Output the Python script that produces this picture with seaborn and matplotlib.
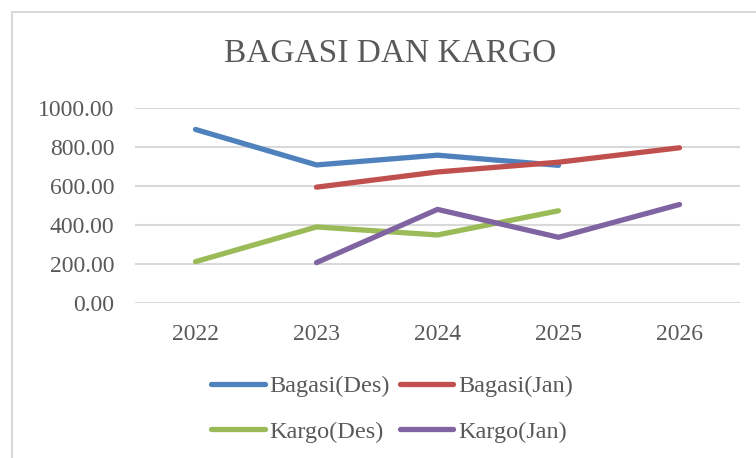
import numpy as np
import pandas as pd
import seaborn as sns
import matplotlib.pyplot as plt
from matplotlib.lines import Line2D

years = ["2022", "2023", "2024", "2025", "2026"]
bagasi_des = [890, 708, 758, 706, np.nan]
bagasi_jan = [np.nan, 594, 672, 722, 796]
kargo_des = [212, 390, 349, 473, np.nan]
kargo_jan = [np.nan, 207, 480, 337, 505]

series = {
    "Bagasi(Des)": bagasi_des,
    "Bagasi(Jan)": bagasi_jan,
    "Kargo(Des)": kargo_des,
    "Kargo(Jan)": kargo_jan,
}
colors = ["#4F81BD", "#C0504D", "#9BBB59", "#8064A2"]

rows = []
for name, vals in series.items():
    for i, v in enumerate(vals):
        rows.append({"x": i, "year": years[i], "value": v, "series": name})
df = pd.DataFrame(rows).dropna()

sns.set_style("white")
plt.rcParams["font.family"] = ["Liberation Serif", "DejaVu Serif"]
grey = "#595959"

fig = plt.figure(figsize=(7.56, 4.58), dpi=100)
ax = fig.add_axes([135 / 756, 1 - 303 / 458, 605 / 756, 195 / 458])

sns.lineplot(data=df, x="x", y="value", hue="series", palette=colors,
             linewidth=3.8, ax=ax, legend=False, sort=False,
             solid_capstyle="round")

ax.set_xlim(-0.5, 4.5)
ax.set_ylim(0, 1000)
ax.set_xticks(range(len(years)))
ax.set_xticklabels(years)
ax.set_yticks(np.arange(0, 1001, 200))
ax.set_yticklabels([f"{v:.2f}" for v in np.arange(0, 1001, 200)])
ax.tick_params(axis="both", length=0, labelsize=17, colors=grey)
ax.tick_params(axis="x", pad=15)
ax.tick_params(axis="y", pad=15)
ax.grid(axis="y", color="#d9d9d9", linewidth=1.5)
ax.set_axisbelow(True)
ax.set_xlabel("")
ax.set_ylabel("")
for s in ax.spines.values():
    s.set_visible(False)

fig.text(390 / 756, 1 - 54 / 458, "BAGASI DAN KARGO", ha="center", va="center",
         fontsize=24, color=grey)

# legend filled row by row: reorder for column-major layout
names = list(series.keys())
order = [0, 2, 1, 3]
handles = [Line2D([0], [0], color=colors[i], linewidth=3.8, solid_capstyle="round") for i in order]
fig.legend(handles, [names[i] for i in order], ncol=2, frameon=False,
           loc="center", bbox_to_anchor=(392 / 756, 1 - 409 / 458),
           fontsize=17.5, labelcolor=grey, handlelength=2.2, handletextpad=0.2,
           columnspacing=0.4, labelspacing=0.95)

# chart border (Excel chart area)
fig.add_artist(Line2D([11.5 / 756, 11.5 / 756], [0, 1 - 11.5 / 458], color="#d9d9d9", linewidth=1.5))
fig.add_artist(Line2D([11.5 / 756, 1], [1 - 11.5 / 458, 1 - 11.5 / 458], color="#d9d9d9", linewidth=1.5))

fig.savefig("out.png", dpi=100)
